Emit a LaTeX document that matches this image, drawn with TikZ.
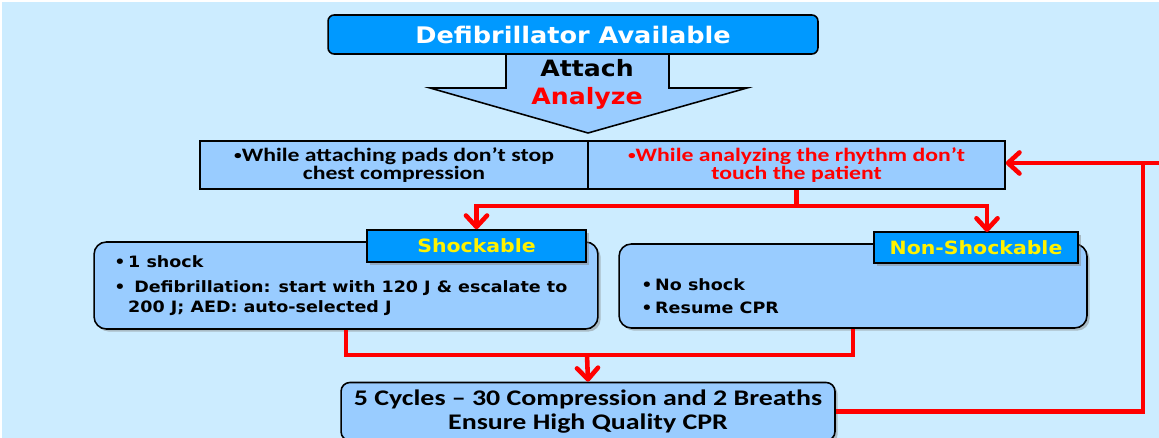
\documentclass[tikz,border=0pt]{standalone}
\usepackage{fontspec}
\usetikzlibrary{arrows.meta,shadows}
\newfontfamily\verdb{DejaVu Sans Bold}[FakeStretch=1.12]
\newfontfamily\calb{Carlito Bold}[FakeStretch=1.25]
\definecolor{bgblue}{HTML}{CCECFF}
\definecolor{deepblue}{HTML}{0099FF}
\definecolor{paleblue}{HTML}{99CCFF}
\newcommand{\bul}{\makebox[7.9pt][l]{•}}
\newcommand{\dotbul}{\raisebox{0.2ex}{\scalebox{0.65}{•}}}
\begin{document}
\begin{tikzpicture}[x=0.02cm, y=-0.02cm, >={Straight Barb[length=6.5pt,width=12pt,round]},
  topbox/.style={draw, line width=0.9pt, fill=deepblue, rounded corners=3.5pt, inner sep=0pt, text=white, font=\verdb\fontsize{13}{15}\selectfont},
  arrowtxt/.style={inner sep=0pt, font=\verdb\fontsize{12.8}{15}\selectfont},
  cell/.style={draw, line width=0.9pt, fill=paleblue, inner sep=0pt, minimum height=0.96cm, align=center, font=\calb\fontsize{10.8}{10.4}\selectfont},
  softbox/.style={draw, line width=0.9pt, fill=paleblue, rounded corners=7pt, inner sep=0pt, drop shadow={shadow xshift=1.5pt, shadow yshift=-1.5pt, opacity=0.45}},
  tag/.style={draw, line width=0.9pt, fill=deepblue, inner sep=0pt, text=yellow, font=\verdb\fontsize{10.4}{12}\selectfont, drop shadow={shadow xshift=1.5pt, shadow yshift=-1.5pt, opacity=0.45}},
  listtxt/.style={inner sep=0pt, anchor=north west, align=left, font=\verdb\fontsize{8.9}{11.3}\selectfont},
  redline/.style={draw=red, line width=2.6pt}]
\useasboundingbox (0,0) rectangle (1159,438);
\clip (0,0) rectangle (1159,438);
\fill[white] (0,0) rectangle (1159,438);
\fill[bgblue] (2,2) rectangle (1162,441);

% big arrow under the title
\draw[line width=0.9pt, fill=paleblue] (506,54) -- (506,88) -- (430,88) -- (588,133) -- (747,88) -- (669,88) -- (669,54);
\node (defib) at (573,34.5) [topbox, minimum width=9.8cm, minimum height=0.78cm] {Defibrillator Available};
\node (attach) at (587,68) [arrowtxt] {Attach};
\node (analyze) at (587,98) [arrowtxt, text=red] {Analyze};

% two notes
\node (cellL) at (394,165) [cell, minimum width=7.76cm] {\dotbul While attaching pads don’t stop\\chest compression};
\node (cellR) at (796.5,165) [cell, minimum width=8.34cm, text=red] {\dotbul While analyzing the rhythm don’t\\touch the patient};

% rhythm boxes
\node (shockbox) at (346,285.5) [softbox, minimum width=10.08cm, minimum height=1.74cm] {};
\node (shocktag) at (476.5,246) [tag, minimum width=4.38cm, minimum height=0.64cm] {Shockable};
\node (shocktxt) at (114,255) [listtxt] {\bul 1 shock\\[3.2pt]
  \bul\ Defibrillation: start with 120 J \& escalate to\\
  \hspace*{7.9pt}200 J; AED: auto-selected J};

\node (nonbox) at (853,286) [softbox, minimum width=9.36cm, minimum height=1.68cm] {};
\node (nontag) at (976,247.5) [tag, minimum width=4.08cm, minimum height=0.62cm] {Non-Shockable};
\node (nontxt) at (641,278) [listtxt, font=\verdb\fontsize{8.9}{13}\selectfont] {\bul No shock\\\bul Resume CPR};

\node (cycles) at (588,411.5) [softbox, rounded corners=5pt, minimum width=9.88cm, minimum height=1.16cm, align=center, font=\calb\fontsize{12.7}{13.6}\selectfont] {5 Cycles – 30 Compression and 2 Breaths\\Ensure High Quality CPR};

% connectors
\coordinate (split) at (796.5,206);
\coordinate (nonIn) at (987,232);
\coordinate (merge) at (587,355);
\coordinate (loop) at (1143,163);
\coordinate (edge) at (1165,163);

\draw[redline] (cellR.south) -- (split);
\draw[redline,->] (split) -| (shocktag.north);
\draw[redline,->] (split) -| (nonIn);
\draw[redline] (shockbox.south) |- (merge) -| (nonbox.south);
\draw[redline,->] (merge) -- (cycles.north);
\draw[redline,->] (cycles.east) -| (loop) -- (loop -| cellR.east);
\draw[redline] (loop) -- (edge);
\end{tikzpicture}
\end{document}
